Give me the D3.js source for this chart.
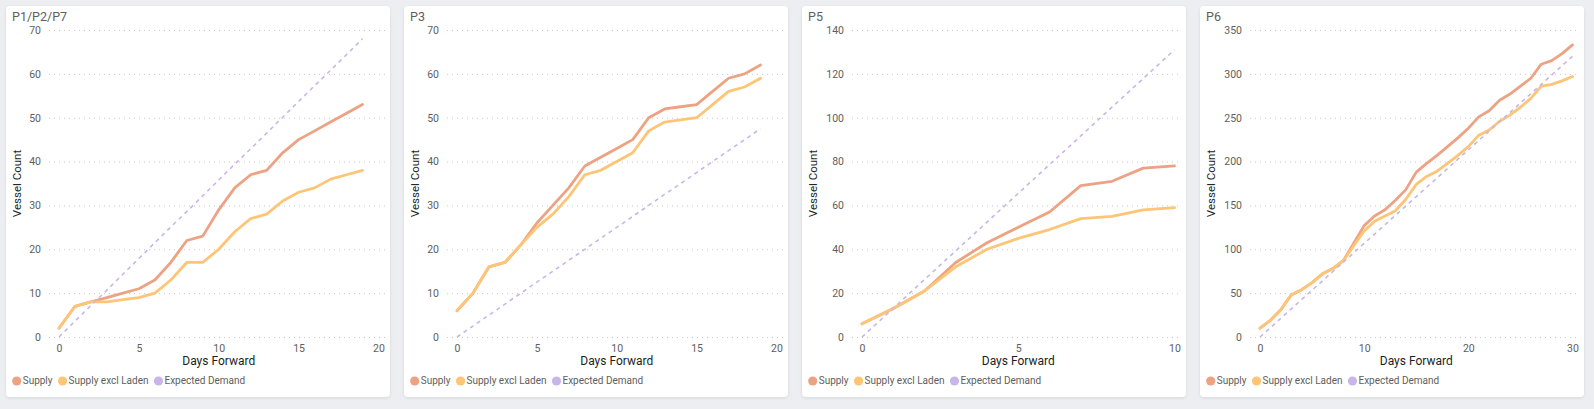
<!DOCTYPE html>
<html>
<head>
<meta charset="utf-8">
<script src="https://cdn.jsdelivr.net/npm/d3@7/dist/d3.min.js"></script>
<style>
  html, body { margin: 0; padding: 0; background: #eceef1; }
  svg { display: block; font-family: Roboto, "Noto Sans", sans-serif; }
</style>
</head>
<body>
<svg id="chart" width="1594" height="409"></svg>
<script>
// ---------- DATA ----------
const seriesNames = ["Supply", "Supply excl Laden", "Expected Demand"];
const panelTitles = ["P1/P2/P7", "P3", "P5", "P6"];

const days19 = [0,1,2,3,4,5,6,7,8,9,10,11,12,13,14,15,16,17,18,19];
const days10 = [0,1,2,3,4,5,6,7,8,9,10];
const days30 = [0,1,2,3,4,5,6,7,8,9,10,11,12,13,14,15,16,17,18,19,20,21,22,23,24,25,26,27,28,29,30];

const p1Supply = [2,7,8,9,10,11,13,17,22,23,29,34,37,38,42,45,47,49,51,53];
const p1Excl   = [2,7,8,8,8.5,9,10,13,17,17,20,24,27,28,31,33,34,36,37,38];
const p1Demand = [0,3.6,7.2,10.7,14.3,17.9,21.5,25.1,28.6,32.2,35.8,39.4,42.9,46.5,50.1,53.7,57.3,60.8,64.4,68];

const p3Supply = [6,10,16,17,21,26,30,34,39,41,43,45,50,52,52.5,53,56,59,60,62];
const p3Excl   = [6,10,16,17,21,25,28,32,37,38,40,42,47,49,49.5,50,53,56,57,59];
const p3Demand = [0,2.5,5,7.5,10,12.5,15,17.5,20,22.5,25,27.5,30,32.5,35,37.5,40,42.5,45,47.5];

const p5Supply = [6,13,21,34,43,50,57,69,71,77,78];
const p5Excl   = [6,13,21,32,40,45,49,54,55,58,59];
const p5Demand = [0,13.1,26.2,39.3,52.4,65.5,78.6,91.7,104.8,117.9,131];

const p6Supply = [10,19,31,48,54,62,72,78,87,107,127,138,145,156,168,188,198,207,217,227,238,251,258,270,277,286,295,311,315,323,333];
const p6Excl   = [10,19,31,48,54,62,72,78,87,104,121,132,138,144,157,174,183,189,198,207,217,230,236,246,253,262,272,286,288,292,297];
const p6Demand = [0,10.7,21.3,32,42.7,53.3,64,74.7,85.3,96,106.7,117.3,128,138.7,149.3,160,170.7,181.3,192,202.7,213.3,224,234.7,245.3,256,266.7,277.3,288,298.7,309.3,320];

const p1YTicks = [0,10,20,30,40,50,60,70];
const p3YTicks = [0,10,20,30,40,50,60,70];
const p5YTicks = [0,20,40,60,80,100,120,140];
const p6YTicks = [0,50,100,150,200,250,300,350];
const p1XTicks = [0,5,10,15,20];
const p3XTicks = [0,5,10,15,20];
const p5XTicks = [0,5,10];
const p6XTicks = [0,10,20,30];

const xAxisTitle = "Days Forward";
const yAxisTitle = "Vessel Count";

// ---------- LAYOUT / STYLE ----------
const colors = ["#eda383", "#fdc575", "#c8b6e8"];
const panels = [
  { title: panelTitles[0], days: days19, series: [p1Supply, p1Excl, p1Demand], yTicks: p1YTicks, xTicks: p1XTicks, left: 53 },
  { title: panelTitles[1], days: days19, series: [p3Supply, p3Excl, p3Demand], yTicks: p3YTicks, xTicks: p3XTicks, left: 53 },
  { title: panelTitles[2], days: days10, series: [p5Supply, p5Excl, p5Demand], yTicks: p5YTicks, xTicks: p5XTicks, left: 60 },
  { title: panelTitles[3], days: days30, series: [p6Supply, p6Excl, p6Demand], yTicks: p6YTicks, xTicks: p6XTicks, left: 60 }
];

const svg = d3.select("#chart");
const defs = svg.append("defs");
const f = defs.append("filter").attr("id", "shadow").attr("x", "-5%").attr("y", "-5%").attr("width", "110%").attr("height", "110%");
f.append("feDropShadow").attr("dx", 0).attr("dy", 1).attr("stdDeviation", 1.5).attr("flood-color", "#000").attr("flood-opacity", 0.10);

svg.append("rect").attr("width", 1594).attr("height", 409).attr("fill", "#eceef1");

const cardW = 384, cardH = 391, cardTop = 6, gap = 14, cardLeft0 = 6;

panels.forEach((p, i) => {
  const g = svg.append("g").attr("transform", `translate(${cardLeft0 + i * (cardW + gap)},${cardTop})`);
  g.append("rect").attr("width", cardW).attr("height", cardH).attr("rx", 4).attr("fill", "#fff").attr("filter", "url(#shadow)");

  g.append("text").attr("x", 6).attr("y", 14.5).attr("font-size", 12.5).attr("fill", "#605e5c").text(p.title);

  const xMax = p.xTicks[p.xTicks.length - 1];
  const yMax = p.yTicks[p.yTicks.length - 1];
  const x = d3.scaleLinear().domain([0, xMax]).range([p.left, 372.5]);
  const y = d3.scaleLinear().domain([0, yMax]).range([331, 24]);

  const gridStart = p.left - 10, gridEnd = 380;

  // Y axis with gridlines
  const yAxis = g.append("g").attr("transform", `translate(${gridStart},0)`)
    .call(d3.axisLeft(y).tickValues(p.yTicks).tickSize(-(gridEnd - gridStart)).tickPadding(8));
  yAxis.select(".domain").remove();
  yAxis.selectAll(".tick line").attr("stroke", "#c8c8c8").attr("stroke-width", 1).attr("stroke-dasharray", "1,4");
  yAxis.selectAll(".tick text").attr("fill", "#605e5c").attr("font-size", 10.5).attr("font-family", "Roboto, sans-serif");

  // X axis
  const xAxis = g.append("g").attr("transform", `translate(0,331)`)
    .call(d3.axisBottom(x).tickValues(p.xTicks).tickSize(0).tickPadding(8));
  xAxis.select(".domain").remove();
  xAxis.selectAll(".tick text").attr("fill", "#605e5c").attr("font-size", 10.5).attr("font-family", "Roboto, sans-serif");

  // Axis titles
  g.append("text").attr("x", (p.left + 372.5) / 2).attr("y", 356).attr("text-anchor", "middle")
    .attr("dominant-baseline", "middle").attr("font-size", 12).attr("fill", "#201f1e").text(xAxisTitle);
  g.append("text").attr("transform", `translate(12,177.5) rotate(-90)`).attr("text-anchor", "middle")
    .attr("dominant-baseline", "middle").attr("font-size", 11.5).attr("fill", "#201f1e").text(yAxisTitle);

  // Lines
  const line = d3.line().x((d, j) => x(p.days[j])).y(d => y(d));
  p.series.forEach((vals, s) => {
    const path = g.append("path").datum(vals).attr("d", line).attr("fill", "none")
      .attr("stroke", colors[s]).attr("stroke-linejoin", "round").attr("stroke-linecap", "round");
    if (s === 2) {
      path.attr("stroke-width", 1.6).attr("stroke-dasharray", "4,4").attr("stroke-linecap", "butt");
    } else {
      path.attr("stroke-width", 2.8);
    }
  });

  // Legend
  const lg = g.append("g").attr("transform", "translate(0,375)");
  let cx = 10.7;
  seriesNames.forEach((name, s) => {
    lg.append("circle").attr("cx", cx).attr("cy", 0).attr("r", 4.6).attr("fill", colors[s]);
    const t = lg.append("text").attr("x", cx + 6).attr("y", 0).attr("dominant-baseline", "middle")
      .attr("font-size", 10).attr("fill", "#605e5c").text(name);
    cx = cx + 6 + t.node().getComputedTextLength() + 10;
  });
});
</script>
</body>
</html>
